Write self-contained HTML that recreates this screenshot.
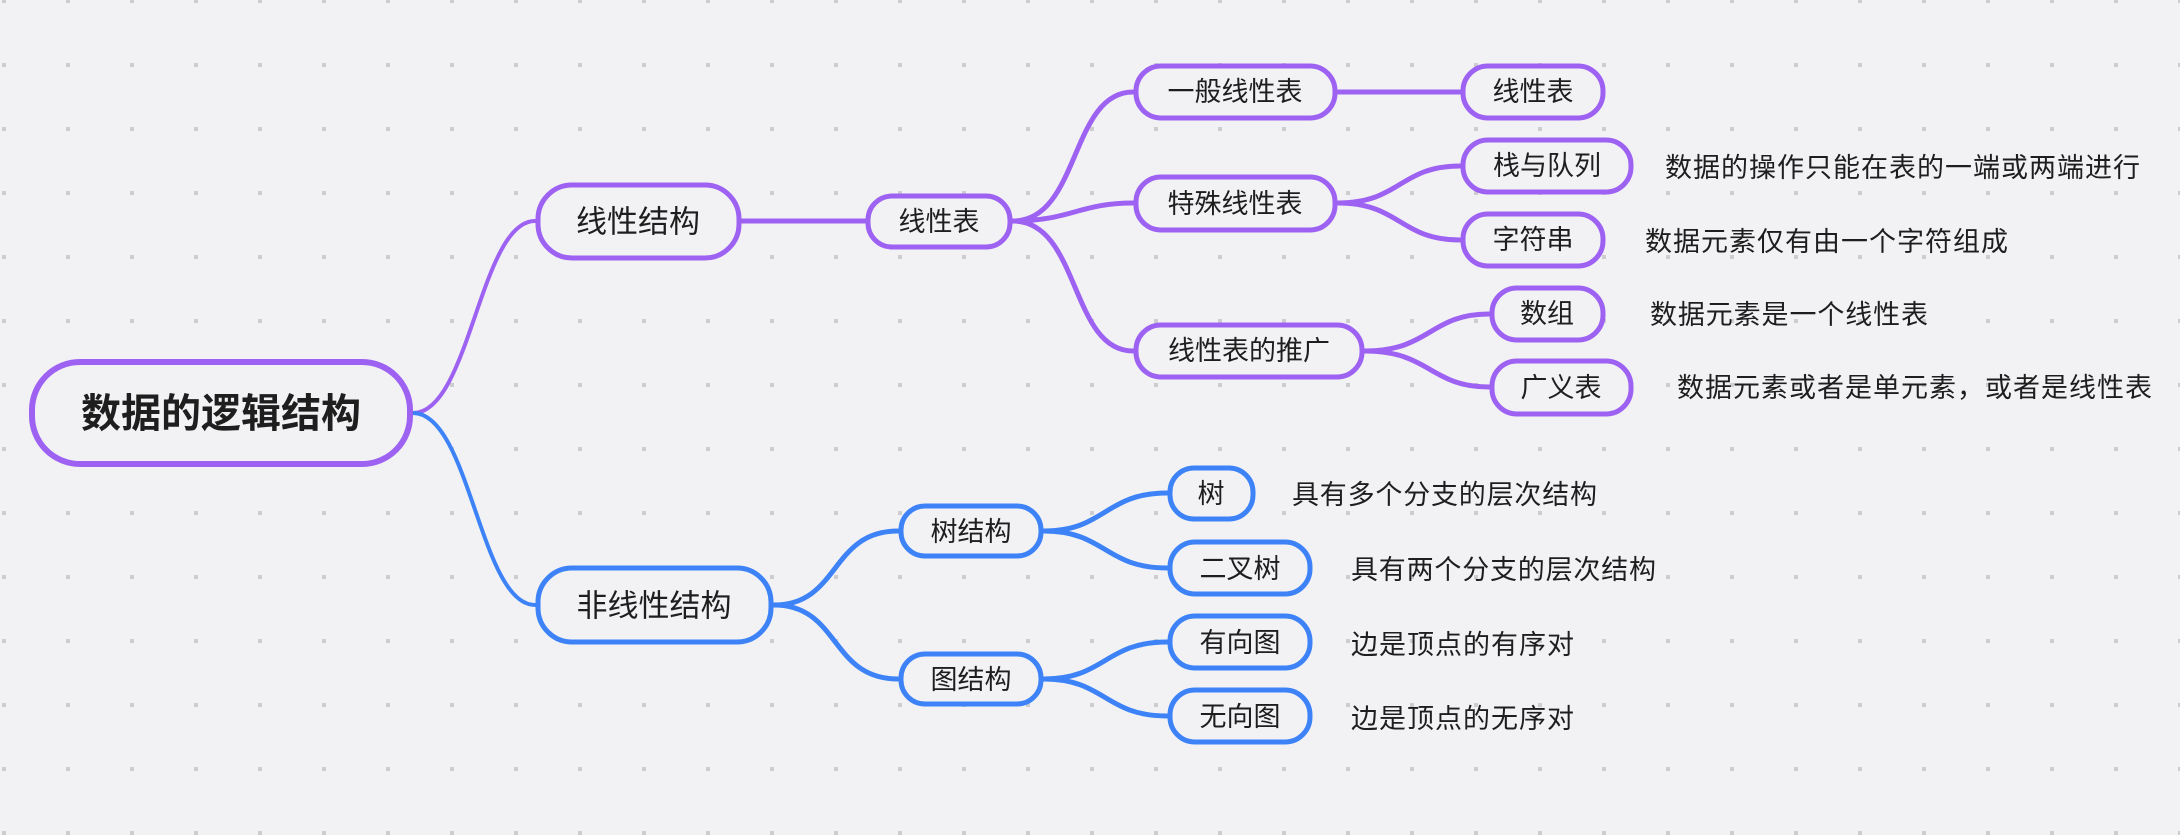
<!DOCTYPE html>
<html><head><meta charset="utf-8"><style>
html,body{margin:0;padding:0;background:#f2f2f5;}
svg{display:block;}
text{font-family:"Liberation Sans","Noto Sans CJK SC",sans-serif;fill:#1e1e1e;dominant-baseline:central;}
</style></head><body>
<svg width="2180" height="835" viewBox="0 0 2180 835" xmlns="http://www.w3.org/2000/svg">
<defs>
<pattern id="g" x="2" y="-1" width="64" height="64" patternUnits="userSpaceOnUse">
<rect x="0" y="0" width="4" height="4" fill="#cdcdd0"/>
</pattern>
</defs>
<rect width="2180" height="835" fill="#f2f2f5"/>
<rect width="2180" height="835" fill="url(#g)"/>

<g fill="none" stroke-linecap="round">
<!-- purple connectors -->
<g stroke="#9d62f2">
<path d="M413 413 C470 413,480 221,535 221" stroke-width="4"/>
<path d="M742 221 L865 221" stroke-width="5"/>
<path d="M1013 221 C1080 221,1070 92,1133 92" stroke-width="5"/>
<path d="M1013 221 C1070 221,1080 203,1133 203" stroke-width="5"/>
<path d="M1013 221 C1080 221,1070 351,1133 351" stroke-width="5"/>
<path d="M1338 92 L1460 92" stroke-width="5"/>
<path d="M1338 203 C1400 203,1400 166,1460 166" stroke-width="5"/>
<path d="M1338 203 C1400 203,1400 240,1460 240" stroke-width="5"/>
<path d="M1365 351 C1430 351,1430 314,1489 314" stroke-width="5"/>
<path d="M1365 351 C1430 351,1430 387,1489 387" stroke-width="5"/>
</g>
<!-- blue connectors -->
<g stroke="#3d83f7">
<path d="M413 413 C470 413,480 605,535 605" stroke-width="4"/>
<path d="M774 605 C840 605,830 531,898 531" stroke-width="5"/>
<path d="M774 605 C840 605,830 679,898 679" stroke-width="5"/>
<path d="M1044 531 C1105 531,1105 493,1167 493" stroke-width="5"/>
<path d="M1044 531 C1105 531,1105 568,1167 568" stroke-width="5"/>
<path d="M1044 679 C1105 679,1105 642,1167 642" stroke-width="5"/>
<path d="M1044 679 C1105 679,1105 716,1167 716" stroke-width="5"/>
</g>
</g>

<!-- nodes -->
<g fill="#f2f2f5" stroke-width="5">
<rect x="32" y="362" width="378" height="102" rx="48" stroke="#9d62f2" stroke-width="6"/>
<rect x="538" y="185" width="201" height="73" rx="34" stroke="#9d62f2"/>
<rect x="868" y="196" width="142" height="51" rx="24" stroke="#9d62f2"/>
<rect x="1136" y="66" width="199" height="52" rx="25" stroke="#9d62f2"/>
<rect x="1136" y="177" width="199" height="53" rx="25" stroke="#9d62f2"/>
<rect x="1136" y="325" width="226" height="52" rx="25" stroke="#9d62f2"/>
<rect x="1463" y="66" width="140" height="52" rx="25" stroke="#9d62f2"/>
<rect x="1463" y="140" width="168" height="52" rx="25" stroke="#9d62f2"/>
<rect x="1463" y="214" width="140" height="52" rx="25" stroke="#9d62f2"/>
<rect x="1492" y="288" width="111" height="52" rx="25" stroke="#9d62f2"/>
<rect x="1492" y="361" width="139" height="53" rx="25" stroke="#9d62f2"/>

<rect x="538" y="568" width="233" height="74" rx="34" stroke="#3d83f7"/>
<rect x="901" y="506" width="140" height="50" rx="24" stroke="#3d83f7"/>
<rect x="901" y="654" width="140" height="50" rx="24" stroke="#3d83f7"/>
<rect x="1170" y="468" width="83" height="51" rx="24" stroke="#3d83f7"/>
<rect x="1170" y="542" width="140" height="52" rx="25" stroke="#3d83f7"/>
<rect x="1170" y="616" width="140" height="52" rx="25" stroke="#3d83f7"/>
<rect x="1170" y="690" width="140" height="52" rx="25" stroke="#3d83f7"/>
</g>

<!-- node labels -->
<g text-anchor="middle">
<text x="221" y="414" font-size="40" font-weight="bold">数据的逻辑结构</text>
<text x="638" y="222" font-size="31">线性结构</text>
<text x="939" y="222" font-size="27">线性表</text>
<text x="1235" y="92" font-size="27">一般线性表</text>
<text x="1235" y="204" font-size="27">特殊线性表</text>
<text x="1249" y="351" font-size="27">线性表的推广</text>
<text x="1533" y="92" font-size="27">线性表</text>
<text x="1547" y="166" font-size="27">栈与队列</text>
<text x="1533" y="240" font-size="27">字符串</text>
<text x="1547" y="314" font-size="27">数组</text>
<text x="1561" y="388" font-size="27">广义表</text>
<text x="654" y="606" font-size="31">非线性结构</text>
<text x="971" y="532" font-size="27">树结构</text>
<text x="971" y="680" font-size="27">图结构</text>
<text x="1211" y="494" font-size="27">树</text>
<text x="1240" y="569" font-size="27">二叉树</text>
<text x="1240" y="643" font-size="27">有向图</text>
<text x="1240" y="717" font-size="27">无向图</text>
</g>

<!-- descriptions -->
<g font-size="27">
<text x="1665" y="168" textLength="475" lengthAdjust="spacing">数据的操作只能在表的一端或两端进行</text>
<text x="1645" y="242" textLength="363" lengthAdjust="spacing">数据元素仅有由一个字符组成</text>
<text x="1650" y="315" textLength="278" lengthAdjust="spacing">数据元素是一个线性表</text>
<text x="1677" y="388" textLength="475" lengthAdjust="spacing">数据元素或者是单元素，或者是线性表</text>
<text x="1292" y="495" textLength="305" lengthAdjust="spacing">具有多个分支的层次结构</text>
<text x="1351" y="570" textLength="305" lengthAdjust="spacing">具有两个分支的层次结构</text>
<text x="1351" y="645" textLength="223" lengthAdjust="spacing">边是顶点的有序对</text>
<text x="1351" y="719" textLength="223" lengthAdjust="spacing">边是顶点的无序对</text>
</g>
</svg>
</body></html>
